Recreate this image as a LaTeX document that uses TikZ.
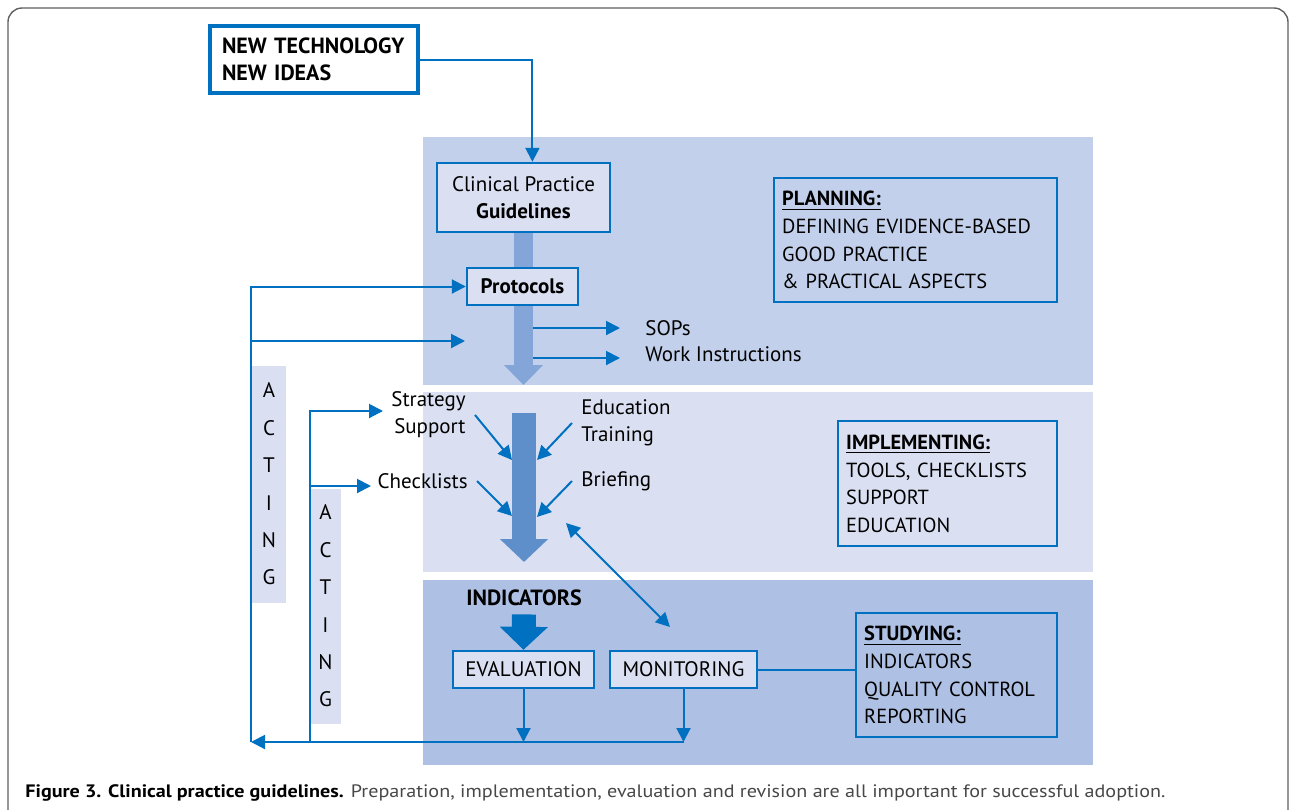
\documentclass[tikz,border=0pt]{standalone}
\usepackage{fontspec}
\usepackage{graphicx}
\setmainfont{PT Sans}
\usetikzlibrary{arrows.meta}
\usetikzlibrary{positioning}
\usetikzlibrary{backgrounds}

\definecolor{cpblue}{HTML}{0070C0}
\definecolor{planfill}{HTML}{C3D0EB}
\definecolor{implfill}{HTML}{DAE0F2}
\definecolor{studfill}{HTML}{AEC0E3}
\definecolor{protarrow}{HTML}{84A5D8}
\definecolor{implarrow}{HTML}{5F8FCB}
\definecolor{framegray}{HTML}{606060}

\newcommand{\basefont}{\fontsize{10.5}{13.6}\selectfont}

\tikzset{
  stepbox/.style={draw=cpblue, line width=1.2pt, fill=implfill, inner sep=0pt, align=center},
  infobox/.style={draw=cpblue, line width=1.2pt, anchor=north west, align=left,
    inner xsep=4pt, inner ysep=0pt, font=\fontsize{10.2}{13.8}\selectfont},
  plain/.style={inner sep=0pt},
  acting/.style={fill=implfill, inner sep=0pt, align=center,
    font=\fontsize{10.5}{18.7}\selectfont},
  flow/.style={draw=cpblue, line width=1pt, -{Triangle[length=7pt,width=7pt]}},
  flowboth/.style={draw=cpblue, line width=1pt,
    {Triangle[length=7pt,width=7pt]}-{Triangle[length=7pt,width=7pt]}},
}

\begin{document}
\begin{tikzpicture}[x=0.5pt, y=-0.5pt, font=\basefont]
\useasboundingbox (0,0) rectangle (1290,809);

% outer frame
\draw[framegray, line width=0.7pt, rounded corners=7pt]
  (8,830) -- (8,8) -- (1288,8) -- (1288,830);

% boxes
\node[stepbox, fill=white, line width=2pt, align=left, text width=92pt,
  inner xsep=6pt, minimum height=33.5pt, font=\fontsize{11}{13.6}\selectfont\bfseries]
  (tech) at (314,59.5) {NEW TECHNOLOGY\\NEW IDEAS};
\node[stepbox, minimum width=86.5pt, minimum height=34.5pt]
  (cpg) at (523.5,197.5) {Clinical Practice\\\textbf{Guidelines}};
\node[stepbox, minimum width=55.5pt, minimum height=18.5pt, font=\basefont\bfseries]
  (prot) at (522.5,286.5) {Protocols};

\node[plain, anchor=west] (sops) at (645,328) {SOPs};
\node[plain, anchor=west] (wi) at (645,354) {Work Instructions};

\node[infobox, text width=133.5pt, minimum height=62pt] (plan) at (773,177)
  {\underline{\textbf{PLANNING:}}\\DEFINING EVIDENCE-BASED\\GOOD PRACTICE\\\& PRACTICAL ASPECTS};
\node[infobox, text width=101.5pt, minimum height=62.5pt] (impl) at (837,420)
  {\underline{\textbf{IMPLEMENTING:}}\\TOOLS, CHECKLISTS\\SUPPORT\\EDUCATION};
\node[infobox, text width=92.5pt, minimum height=62pt] (stud) at (855,612)
  {\underline{\textbf{STUDYING:}}\\INDICATORS\\QUALITY CONTROL\\REPORTING};

% implementing inputs
\node[plain, anchor=east, align=right, inner xsep=4.5pt] (strat) at (475,415) {Strategy\\Support};
\node[plain, anchor=east, inner xsep=4.5pt] (chk) at (477,481) {Checklists};
\node[plain, anchor=west, align=left, inner xsep=4.5pt] (edu) at (572,423) {Education\\Training};
\node[plain, anchor=west, inner xsep=4.5pt] (brief) at (572,481) {Briefing};

% acting columns
\node[acting, minimum width=17pt, minimum height=118.5pt] (act_outer) at (269,484) {A\\C\\T\\I\\N\\G};
\node[acting, minimum width=15.5pt, minimum height=117.5pt] (act_inner) at (325.5,606) {A\\C\\T\\I\\N\\G};

% studying
\node[plain, font=\fontsize{11}{13.6}\selectfont\bfseries] (ind) at (524,598) {INDICATORS};
\node[stepbox, minimum width=70.5pt, minimum height=18.5pt] (eval) at (523.5,669.5) {EVALUATION};
\node[stepbox, minimum width=73.5pt, minimum height=18.5pt] (mon) at (683.5,669.5) {MONITORING};

% caption
\node[plain, anchor=west] (caption) at (25,793)
  {\resizebox{570pt}{\height}{\fontsize{9}{11}\selectfont\textbf{Figure 3. Clinical practice guidelines.}
  \textcolor{black!72}{Preparation, implementation, evaluation and revision are all important for successful adoption.}}};

% free ends
\coordinate (prot_tip) at (523.5,385);
\coordinate (impl_top) at (524,413);
\coordinate (impl_tip) at (524,562);
\coordinate (sop_src) at (533,328);
\coordinate (wi_src) at (533,358);
\coordinate (loop_out) at (251,742);
\coordinate (loop_in) at (310,742);
\coordinate (gap_tip) at (465,341);
\coordinate (strat_tip) at (383,411);
\coordinate (chk_tip) at (371,486);
\coordinate (strat_in) at (512,460);
\coordinate (edu_in) at (537,460);
\coordinate (chk_in) at (512,516);
\coordinate (brief_in) at (537,517);
\coordinate (dbl_a) at (566,523);
\coordinate (dbl_b) at (670,627);

\begin{scope}[on background layer]
  \fill[planfill] (423,137) rectangle (1093,385);
  \fill[implfill] (423,392) rectangle (1093,572);
  \fill[studfill] (423,580) rectangle (1093,765);
  \draw[protarrow, line width=9.5pt, -{Triangle[length=10pt,width=19pt]}] (cpg.south) -- (prot_tip);
  \draw[implarrow, line width=12pt, -{Triangle[length=11.5pt,width=23.5pt]}] (impl_top) -- (impl_tip);
  \draw[cpblue, line width=12pt, -{Triangle[length=11.5pt,width=23.5pt]}, shorten <=4pt] (ind.south) -- (eval.north);
\end{scope}

% connectors
\draw[flow] (tech.east) -| (cpg.76);
\draw[flow, shorten >=12.5pt] (sop_src) -- (sops.west);
\draw[flow, shorten >=12.5pt] (wi_src) -- (wi_src -| wi.west);

\draw[flow] (loop_out) |- (prot.west);
\draw[flow] (loop_out |- gap_tip) -- (gap_tip);
\draw[flow] (loop_in) |- (strat_tip);
\draw[flow] (loop_in |- chk_tip) -- (chk_tip);

\draw[flow] (strat.east) -- (strat_in);
\draw[flow] (edu.west) -- (edu_in);
\draw[flow] (chk.east) -- (chk_in);
\draw[flow] (brief.west) -- (brief_in);
\draw[flowboth] (dbl_a) -- (dbl_b);

\draw[flow] (eval.south) -- (eval.south |- loop_out);
\draw[flow] (mon.south) -- (mon.south |- loop_out);
\draw[flow] (mon.south |- loop_out) -- (loop_out);
\draw[cpblue, line width=1pt] (mon.east) -- (mon.east -| stud.west);

\end{tikzpicture}
\end{document}
